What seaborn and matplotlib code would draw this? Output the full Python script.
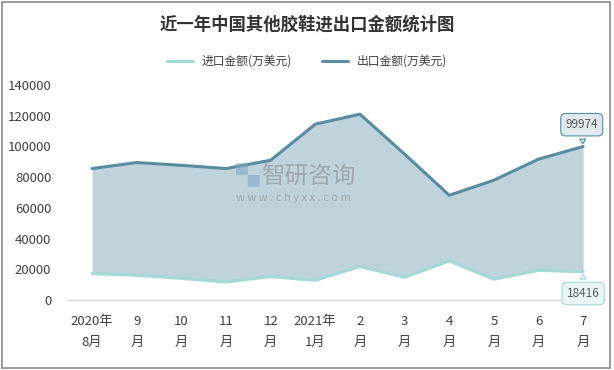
import numpy as np
import pandas as pd
import seaborn as sns
import matplotlib.pyplot as plt

months = ['2020年\n8月', '9\n月', '10\n月', '11\n月', '12\n月', '2021年\n1月',
          '2\n月', '3\n月', '4\n月', '5\n月', '6\n月', '7\n月']
import_vals = [17200, 16100, 14100, 11700, 15200, 12800, 21800, 14800, 25400, 13500, 19300, 18416]
export_vals = [85600, 89500, 87700, 85600, 91000, 114500, 121000, 95000, 68200, 78000, 91700, 99974]

sns.set_theme(style='white')
plt.rcParams['font.family'] = ['Noto Sans CJK SC', 'DejaVu Sans']

imp_color = '#a3d9d6'
exp_color = '#5a8ca1'
fill_color = '#bfd3dc'
text_color = '#404040'

df = pd.DataFrame({'x': np.arange(len(months)), 'imp': import_vals, 'exp': export_vals})

fig = plt.figure(figsize=(6.14, 3.70), dpi=100)
ax = fig.add_axes([68 / 614, 1 - 300 / 370, (605 - 68) / 614, (300 - 85) / 370])

ax.fill_between(df['x'], df['imp'], df['exp'], color=fill_color, lw=0, zorder=1)
sns.lineplot(data=df, x='x', y='imp', ax=ax, color=imp_color, lw=2.2, label='进口金额(万美元)', zorder=3)
sns.lineplot(data=df, x='x', y='exp', ax=ax, color=exp_color, lw=2.2, label='出口金额(万美元)', zorder=3)

ax.set_xlim(-0.54, 11.49)
ax.set_ylim(0, 140000)
ax.set_yticks(range(0, 140001, 20000))
ax.set_yticklabels([str(v) for v in range(0, 140001, 20000)], fontsize=9.5, color=text_color)
ax.set_xticks(df['x'])
ax.set_xticklabels(months, fontsize=9.5, color=text_color, linespacing=1.75)
ax.tick_params(axis='both', length=0)
ax.tick_params(axis='x', pad=11)
ax.tick_params(axis='y', pad=12)
ax.set_xlabel('')
ax.set_ylabel('')
for s in ['top', 'right', 'left']:
    ax.spines[s].set_visible(False)
ax.spines['bottom'].set_color('#d9d9d9')
ax.spines['bottom'].set_linewidth(1)

# watermark
fig.text(0.385, 0.52, '▚', fontsize=17, color='#7fa6c8', alpha=0.6, ha='left', va='center')
fig.text(0.425, 0.52, '智研咨询', fontsize=17, color='#8a8a8a', alpha=0.6, ha='left', va='center')
fig.text(0.385, 0.465, 'w w w . c h y x x . c o m', fontsize=8, color='#8a8a8a', alpha=0.6, ha='left', va='center')

# end labels
ax.annotate(str(export_vals[-1]), xy=(11, export_vals[-1]), xytext=(-1, 11), textcoords='offset points',
            ha='center', va='bottom', fontsize=8.5, color='#595959',
            bbox=dict(boxstyle='round,pad=0.4', fc='#dfe9ee', ec=exp_color, lw=0.8),
            arrowprops=dict(arrowstyle='wedge,tail_width=0.5', fc='#dfe9ee', ec=exp_color, lw=0.8))
ax.annotate(str(import_vals[-1]), xy=(11, import_vals[-1]), xytext=(0, -11), textcoords='offset points',
            ha='center', va='top', fontsize=8.5, color='#595959',
            bbox=dict(boxstyle='round,pad=0.4', fc='#eaf6f6', ec=imp_color, lw=0.8),
            arrowprops=dict(arrowstyle='wedge,tail_width=0.5', fc='#eaf6f6', ec=imp_color, lw=0.8))

leg = ax.legend(loc='upper center', ncol=2, frameon=False, fontsize=8.5, handlelength=2.2,
                columnspacing=2.5, borderaxespad=0)
leg.set_bbox_to_anchor((0.5, 1 - 50 / 370), transform=fig.transFigure)
for t in leg.get_texts():
    t.set_color(text_color)

fig.text(0.5, 1 - 25 / 370, '近一年中国其他胶鞋进出口金额统计图', ha='center', va='center',
         fontsize=12.5, fontweight='bold', color='#333333')

# outer border
fig.patches.append(plt.Rectangle((0.004, 0.005), 0.99, 0.99, transform=fig.transFigure,
                                 fill=False, ec='#8c8c8c', lw=1.2))

fig.savefig('out.png', dpi=100)
plt.close()
